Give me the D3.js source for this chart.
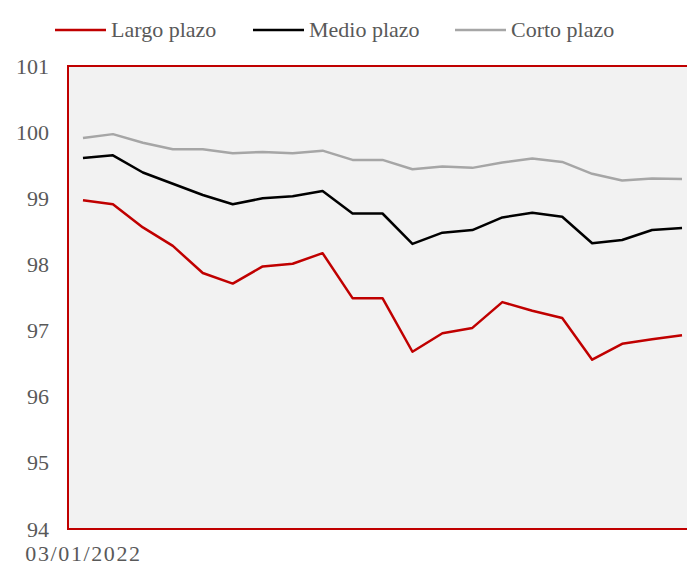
<!DOCTYPE html>
<html lang="es">
<head>
<meta charset="UTF-8">
<title>Plazos</title>
<script src="https://cdn.jsdelivr.net/npm/d3@7"></script>
<style>
  body { margin: 0; background: #fff; }
  svg { display: block; }
  text { font-family: "Liberation Serif", serif; fill: #595959; }
</style>
</head>
<body>
<svg width="687" height="566"></svg>
<script>
// weekly dates
const dates = ['03/01/2022','10/01/2022','17/01/2022','24/01/2022','31/01/2022','07/02/2022','14/02/2022',
  '21/02/2022','28/02/2022','07/03/2022','14/03/2022','21/03/2022','28/03/2022','04/04/2022',
  '11/04/2022','18/04/2022','25/04/2022','02/05/2022','09/05/2022','16/05/2022','23/05/2022'];

const largo = [98.97, 98.91, 98.56, 98.28, 97.87, 97.71, 97.97, 98.01, 98.17, 97.49, 97.49,
  96.68, 96.96, 97.04, 97.43, 97.30, 97.19, 96.56, 96.80, 96.87, 96.93];
const medio = [99.61, 99.65, 99.39, 99.22, 99.05, 98.91, 99.00, 99.03, 99.11, 98.77, 98.77,
  98.31, 98.48, 98.52, 98.71, 98.78, 98.72, 98.32, 98.37, 98.52, 98.55];
const corto = [99.91, 99.97, 99.84, 99.74, 99.74, 99.68, 99.70, 99.68, 99.72, 99.58, 99.58,
  99.44, 99.48, 99.46, 99.54, 99.60, 99.55, 99.37, 99.27, 99.30, 99.29];

const seriesNames = ['Largo plazo', 'Medio plazo', 'Corto plazo'];
const yTicks = [94, 95, 96, 97, 98, 99, 100, 101];

const colors = ['#c00000', '#000000', '#a6a6a6'];
const series = [largo, medio, corto];

const svg = d3.select('svg');
const mLeft = 68, mRight = 697, mTop = 66, mBottom = 529;

const x = d3.scalePoint().domain(dates).range([mLeft, mRight]).padding(0.5);
const y = d3.scaleLinear().domain([94, 101]).range([mBottom, mTop]);

// plot background
svg.append('rect')
  .attr('x', mLeft).attr('y', mTop)
  .attr('width', mRight - mLeft).attr('height', mBottom - mTop)
  .attr('fill', '#f2f2f2');

// lines
const line = d3.line().x((d, i) => x(dates[i])).y(d => y(d));
svg.append('g').selectAll('path')
  .data(series)
  .join('path')
  .attr('d', line)
  .attr('fill', 'none')
  .attr('stroke', (d, i) => colors[i])
  .attr('stroke-width', 2.5)
  .attr('stroke-linejoin', 'round');

// border: left, top, bottom
svg.append('path')
  .attr('d', `M${mRight},${mTop}H${mLeft}V${mBottom}H${mRight}`)
  .attr('fill', 'none')
  .attr('stroke', '#c00000')
  .attr('stroke-width', 2);

// y axis
const yAxis = svg.append('g')
  .attr('transform', 'translate(49,0)')
  .call(d3.axisLeft(y).tickValues(yTicks).tickSize(0).tickPadding(0).tickFormat(d3.format('d')));
yAxis.select('.domain').remove();
yAxis.selectAll('text').style('font-size', '22px').attr('fill', '#595959')
  .style('font-family', '"Liberation Serif", serif');

// x axis: only first label shown
const xAxis = svg.append('g')
  .attr('transform', `translate(0,${mBottom})`)
  .call(d3.axisBottom(x).tickValues([dates[0]]).tickSize(0).tickPadding(16));
xAxis.select('.domain').remove();
xAxis.selectAll('text').style('font-size', '22px').attr('fill', '#595959')
  .style('font-family', '"Liberation Serif", serif').attr('letter-spacing', '1.6px');

// legend
const legendX = [55, 253, 455];
const lg = svg.append('g').selectAll('g')
  .data(seriesNames)
  .join('g')
  .attr('transform', (d, i) => `translate(${legendX[i]},30)`);
lg.append('line')
  .attr('x1', 0).attr('x2', 51)
  .attr('stroke', (d, i) => colors[i])
  .attr('stroke-width', 2.5);
lg.append('text')
  .attr('x', 56).attr('dy', '0.33em')
  .style('font-size', '22px')
  .text(d => d);
</script>
</body>
</html>
